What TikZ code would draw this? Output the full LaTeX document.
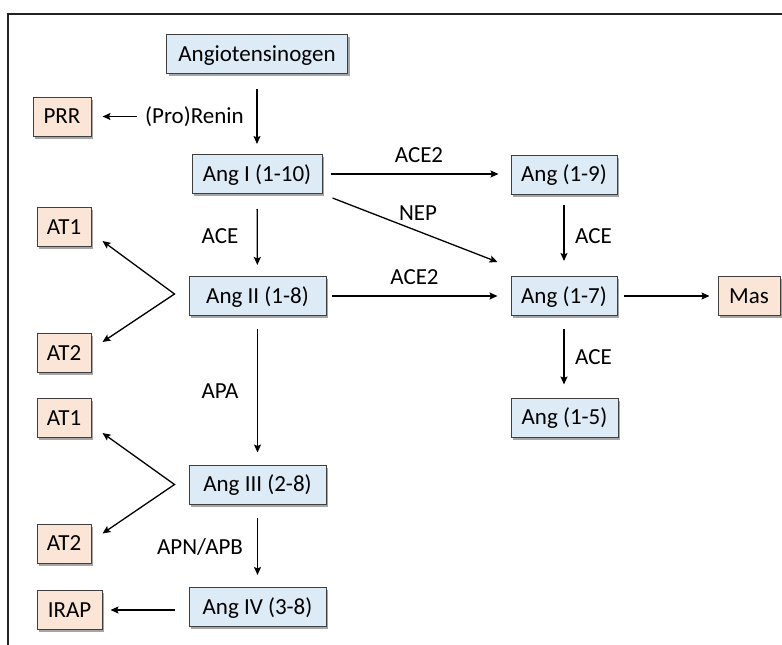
\documentclass[tikz,border=0pt]{standalone}
\usepackage{fontspec}
\setmainfont{Carlito}
\usetikzlibrary{arrows.meta,shadows,calc}
\definecolor{boxblue}{HTML}{DDEBF7}
\definecolor{boxorange}{HTML}{FBE5D6}
\definecolor{boxline}{HTML}{3F3F3F}
\definecolor{framecol}{HTML}{222222}
\tikzset{
  basebox/.style={draw=boxline, line width=1pt, minimum height=39pt, inner xsep=2pt,
    text height=14.8pt, text depth=0pt,
    drop shadow={shadow xshift=2pt, shadow yshift=-2.5pt, fill=black, opacity=0.35},
    font=\fontsize{23}{28}\selectfont},
  angbox/.style={basebox, fill=boxblue},
  recbox/.style={basebox, fill=boxorange},
  lbl/.style={inner sep=0pt, anchor=base, font=\fontsize{23}{28}\selectfont},
  arr/.style={line width=1.3pt, -{Stealth[length=8pt,width=7pt,inset=1.5pt]}},
  darr/.style={line width=1.3pt, line join=miter, {Stealth[length=8pt,width=7pt,inset=1.5pt]}-{Stealth[length=8pt,width=7pt,inset=1.5pt]}}
}
\begin{document}
\begin{tikzpicture}[x=1pt,y=-1pt]
\useasboundingbox (0,0) rectangle (782,645);
% frame
\draw[framecol, line width=2.6pt] (8,645) -- (8,14) -- (782,14);
% nodes
\node[angbox, minimum width=181pt] (ag) at (257,54) {Angiotensinogen};
\node[recbox, minimum width=58pt] (prr) at (62,116.5) {PRR};
\node[angbox, minimum width=130pt] (a1) at (257,174) {Ang I (1-10)};
\node[angbox, minimum width=106pt] (a19) at (564,174.5) {Ang (1-9)};
\node[angbox, minimum width=137pt] (a2) at (257.5,296) {Ang II (1-8)};
\node[angbox, minimum width=106pt] (a17) at (564,296) {Ang (1-7)};
\node[recbox, minimum width=62pt] (mas) at (749,296) {Mas};
\node[angbox, minimum width=107pt] (a15) at (564.5,417.5) {Ang (1-5)};
\node[angbox, minimum width=137pt] (a3) at (257.5,484.5) {Ang III (2-8)};
\node[angbox, minimum width=137pt] (a4) at (257.5,607) {Ang IV (3-8)};
\node[recbox, minimum width=54pt] (at1a) at (64,227) {AT1};
\node[recbox, minimum width=54pt] (at2a) at (64,353) {AT2};
\node[recbox, minimum width=54pt] (at1b) at (64,418) {AT1};
\node[recbox, minimum width=54pt] (at2b) at (64,543.5) {AT2};
\node[recbox, minimum width=65pt] (irap) at (69.5,610) {IRAP};
% labels
\node[lbl] (ren) at (194.5,123) {(Pro)Renin};
\node[lbl] (lace2a) at (419,162) {ACE2};
\node[lbl] (lnep) at (418,220) {NEP};
\node[lbl] (lace2b) at (414.5,284) {ACE2};
\node[lbl] (lacel) at (220,243) {ACE};
\node[lbl] (lacer1) at (593.5,243) {ACE};
\node[lbl] (lacer2) at (593.5,364) {ACE};
\node[lbl] (lapa) at (220,398) {APA};
\node[lbl] (lapn) at (200,554) {APN/APB};
% coordinates
\coordinate (br2) at ($(a2.west)+(-14,-2)$);
\coordinate (br3) at ($(a3.west)+(-14,0)$);
\coordinate (t1a) at ($(at1a.south east)+(11,-6)$);
\coordinate (t2a) at ($(at2a.north east)+(11,9)$);
\coordinate (t1b) at ($(at1b.south east)+(11,-5)$);
\coordinate (t2b) at ($(at2b.north east)+(11,10)$);
\coordinate (nepS) at ($(a1.south east)+(10,4)$);
\coordinate (nepE) at ($(a17.north west)+(-13,-14)$);
% connectors
\draw[arr, shorten <=15pt, shorten >=10pt] (ag) -- (a1);
\draw[arr, shorten <=8pt, shorten >=11pt] (ren.west |- prr) -- (prr.east);
\draw[arr, shorten <=15pt, shorten >=11pt] (a1) -- (a2);
\draw[arr, shorten <=13pt, shorten >=12pt] (a2) -- (a3);
\draw[arr, shorten <=13pt, shorten >=12pt] (a3) -- (a4);
\draw[arr, shorten <=8pt, shorten >=12pt] (a1.east) -- (a1.east -| a19.west);
\draw[arr] (nepS) -- (nepE);
\draw[arr, shorten <=5pt, shorten >=13pt] (a2) -- (a17);
\draw[arr, shorten <=6pt, shorten >=8pt] (a17) -- (mas);
\draw[arr, shorten <=10pt, shorten >=15pt] (a19) -- (a17);
\draw[arr, shorten <=13pt, shorten >=13pt] (a17.south) -- (a17.south |- a15.north);
\draw[arr, shorten <=14pt, shorten >=8pt] (a4.west |- irap) -- (irap.east);
\draw[darr] (t1a) -- (br2) -- (t2a);
\draw[darr] (t1b) -- (br3) -- (t2b);
\end{tikzpicture}
\end{document}
